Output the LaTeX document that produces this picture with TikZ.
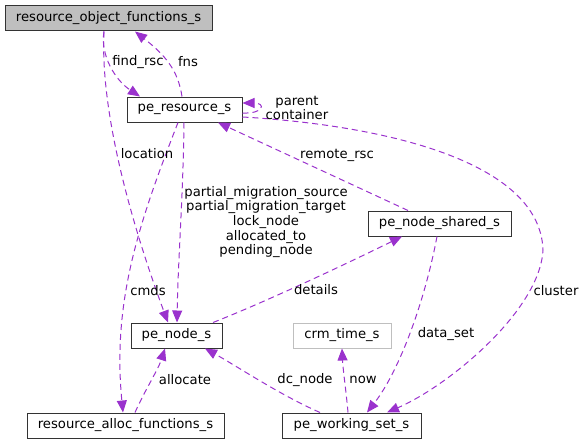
\documentclass[tikz,border=0pt]{standalone}
\usepackage{fontspec}
\setmainfont{DejaVu Sans}
\usetikzlibrary{%
    arrows.meta,
    calc
}

\definecolor{linkpurple}{HTML}{9A32CD}
\definecolor{boxgray}{HTML}{BFBFBF}

\tikzset{%
    struct/.style={draw=black!80, line width=1pt, minimum height=25pt,
                   inner sep=0pt, font=\fontsize{13.2}{15}\selectfont},
    link/.style={draw=linkpurple, line width=1pt, dash pattern=on 6pt off 4pt,
                 -{Triangle[length=12pt,width=10pt,fill=linkpurple]}},
    linklabel/.style={inner sep=0pt, align=center,
                      font=\fontsize{13.2}{14.7}\selectfont}
}

\begin{document}
\begin{tikzpicture}[x=1pt, y=-1pt]
    \useasboundingbox (0,0) rectangle (585,444);

    \node[struct, fill=boxgray, minimum width=207pt] (rof)    at (108.5,18.5)  {resource\_object\_functions\_s};
    \node[struct, minimum width=115pt]               (rsc)    at (184.5,109.5) {pe\_resource\_s};
    \node[struct, minimum width=143pt]               (shared) at (439.5,223.5) {pe\_node\_shared\_s};
    \node[struct, minimum width=91pt]                (node)   at (176.5,335.5) {pe\_node\_s};
    \node[struct, draw=boxgray, minimum width=98pt]  (time)   at (342,335.5)   {crm\_time\_s};
    \node[struct, minimum width=197pt]               (alloc)  at (125.5,425.5) {resource\_alloc\_functions\_s};
    \node[struct, minimum width=139pt]               (wset)   at (351.5,425.5) {pe\_working\_set\_s};

    % resource_object_functions_s <-> pe_resource_s
    \draw[link] ($(rof.south)+(-4.5,0)$) .. controls (100,55) and (115,80) .. ($(rsc.north)+(-44.5,0)$);
    \draw[link] ($(rsc.north)+(-2.5,0)$) .. controls (178,70) and (165,55) .. ($(rof.south)+(26.5,0)$);
    \draw[link] ($(rof.south)+(-4.5,0)$) .. controls (100,110) and (130,220) .. ($(node.north)+(-8.5,0)$);

    % pe_resource_s
    \draw[link] ($(rsc.east)+(0,3.5)$) .. controls (264,114) and (266,103) .. ($(rsc.east)+(0,-6.5)$);
    \draw[link] ($(rsc.south)+(-0.5,0)$) .. controls (183,200) and (178,260) .. ($(node.north)+(0.5,0)$);
    \draw[link] ($(rsc.south)+(-6.5,0)$) .. controls (140,220) and (112,300) .. ($(alloc.north)+(-2.5,0)$);
    \draw[link] ($(shared.north)+(-31.5,0)$) -- ($(rsc.south)+(33.5,0)$);
    \draw[link] ($(rsc.east)+(0,7.5)$) .. controls (380,125) and (540,160) .. (543,250)
                .. controls (540,310) and (450,385) .. ($(wset.north)+(35.5,0)$);

    % pe_node_s and the rest
    \draw[link] ($(node.north)+(36.5,0)$) .. controls (270,300) and (350,262) .. ($(shared.south)+(-37.5,0)$);
    \draw[link] ($(alloc.north)+(9.5,0)$) .. controls (145,390) and (158,370) .. ($(node.south)+(-11.5,0)$);
    \draw[link] ($(wset.north)+(-31.5,0)$) .. controls (280,395) and (235,365) .. ($(node.south)+(28.5,0)$);
    \draw[link] ($(wset.north)+(-3.5,0)$) .. controls (346,390) and (343,370) .. ($(time.south)+(0,0)$);
    \draw[link] ($(shared.south)+(-2.5,0)$) .. controls (425,300) and (400,370) .. ($(wset.north)+(15.5,0)$);

    \node[linklabel] (l-findrsc)   at (138,62)  {find\_rsc};
    \node[linklabel] (l-fns)       at (188,62)  {fns};
    \node[linklabel] (l-location)  at (147,154) {location};
    \node[linklabel] (l-parent)    at (297,108) {parent\\container};
    \node[linklabel] (l-remote)    at (337,155) {remote\_rsc};
    \node[linklabel] (l-partial)   at (266,222) {partial\_migration\_source\\partial\_migration\_target\\lock\_node\\allocated\_to\\pending\_node};
    \node[linklabel] (l-details)   at (316,290) {details};
    \node[linklabel] (l-cmds)      at (148,291) {cmds};
    \node[linklabel] (l-cluster)   at (556,291) {cluster};
    \node[linklabel] (l-dataset)   at (446,334) {data\_set};
    \node[linklabel] (l-allocate)  at (185,380) {allocate};
    \node[linklabel] (l-dcnode)    at (305,380) {dc\_node};
    \node[linklabel] (l-now)       at (363,380) {now};
\end{tikzpicture}
\end{document}
